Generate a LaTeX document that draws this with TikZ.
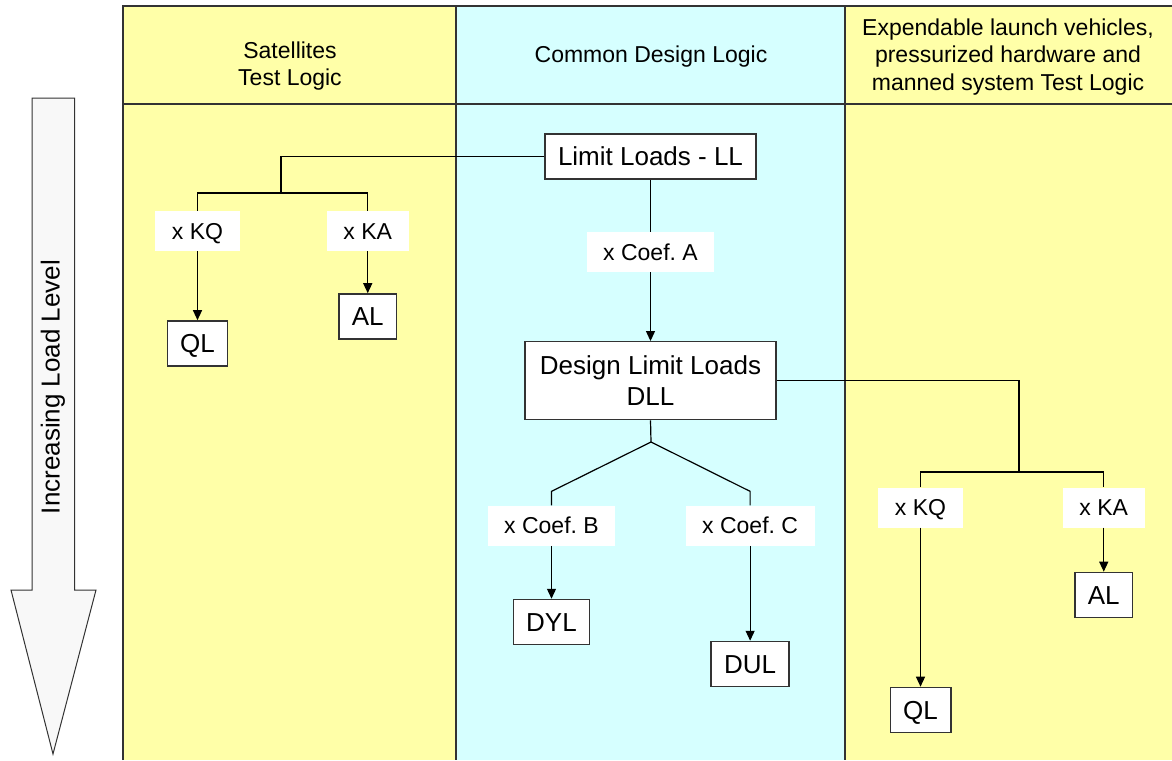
\documentclass[tikz,border=0pt]{standalone}
\usepackage{fontspec}
\setmainfont{Liberation Sans}
\usetikzlibrary{positioning}
\usetikzlibrary{arrows.meta}
\definecolor{coly}{HTML}{FFFFA8}
\definecolor{colc}{HTML}{D6FFFF}
\definecolor{colg}{HTML}{F8F8F8}
\frenchspacing

\begin{document}
\begin{tikzpicture}[
    x=1pt,y=-1pt,
    head/.style={align=center,font=\fontsize{23}{27.5}\selectfont},
    load/.style={rectangle,draw=black!80,line width=1.3pt,fill=white,inner xsep=13pt,minimum height=45pt,text height=18.6pt,text depth=0pt,font=\fontsize{26}{31}\selectfont},
    coef/.style={rectangle,fill=white,inner xsep=16.5pt,minimum height=40pt,text height=16.5pt,text depth=0pt,font=\fontsize{23}{27}\selectfont},
    wire/.style={line width=1.2pt},
    arr/.style={line width=1.2pt,-{Triangle[length=10pt,width=9pt]}}
    ]
    \useasboundingbox (0,0) rectangle (1172,760);
    % columns
    \fill[coly] (123,6) rectangle (456,760);
    \fill[colc] (456,6) rectangle (845,760);
    \fill[coly] (845,6) rectangle (1172,760);
    \draw[black!80,line width=1.5pt] (123,760) -- (123,6) -- (1172,6);
    \draw[black!80,line width=1.5pt] (123,104) -- (1172,104);
    \draw[black!80,line width=1.5pt] (456,6) -- (456,760);
    \draw[black!80,line width=1.5pt] (845,6) -- (845,760);
    \node (sat) [head] at (290,66) {Satellites\\Test Logic};
    \node (cdl) [head] at (651,57) {Common Design Logic};
    \node (elv) [head] at (1008,57) {Expendable launch vehicles,\\pressurized hardware and\\manned system Test Logic};
    % load level arrow
    \draw[black!80,fill=colg,line width=1pt] (32,98) -- (74.7,98) -- (74.7,590) -- (96,590) -- (53,754) -- (11,590) -- (32,590) -- cycle;
    \node (lvl) [rotate=90,font=\fontsize{26}{31}\selectfont] at (53,387) {Increasing Load Level};
    % common design logic
    \node (ll) [load] at (650.5,156.5) {Limit Loads - LL};
    \node (coefa) [coef,below=52pt of ll] {x Coef. A};
    \node (dll) [load,align=center,inner xsep=15pt,text height=,text depth=,minimum height=78pt,below=69pt of coefa] {Design Limit Loads\\DLL};
    \node (coefb) [coef,below=85pt of dll,xshift=-99pt] {x Coef. B};
    \node (coefc) [coef,right=70pt of coefb] {x Coef. C};
    \node (dyl) [load,below=53pt of coefb] {DYL};
    \node (dul) [load,below=95pt of coefc] {DUL};
    % satellites
    \node (skq) [coef] at (197.5,231) {x KQ};
    \node (ska) [coef,right=87pt of skq] {x KA};
    \node (sql) [load,below=69pt of skq] {QL};
    \node (sal) [load,below=42pt of ska] {AL};
    % launch vehicles
    \node (ekq) [coef] at (920.5,507.5) {x KQ};
    \node (eka) [coef,right=100pt of ekq] {x KA};
    \node (eql) [load,below=159pt of ekq] {QL};
    \node (eal) [load,below=44pt of eka] {AL};
    % connectors
    \coordinate (sbar) at (281,193);
    \coordinate (ebar) at (1019,472);
    \coordinate (fork) at (651,442);
    \draw[wire] (ll.west) -| (sbar);
    \draw[wire] (skq.north) |- (sbar) -| (ska.north);
    \draw[arr] (skq.south) -- (sql.north);
    \draw[arr] (ska.south) -- (sal.north);
    \draw[wire] (ll.south) -- (coefa.north);
    \draw[arr] (coefa.south) -- (dll.north);
    \draw[wire] (dll.south) -- (fork) -- ([yshift=14pt]coefb.north) -- (coefb.north);
    \draw[wire] (fork) -- ([yshift=14pt]coefc.north) -- (coefc.north);
    \draw[arr] (coefb.south) -- (dyl.north);
    \draw[arr] (coefc.south) -- (dul.north);
    \draw[wire] (dll.east) -| (ebar);
    \draw[wire] (ekq.north) |- (ebar) -| (eka.north);
    \draw[arr] (ekq.south) -- (eql.north);
    \draw[arr] (eka.south) -- (eal.north);
\end{tikzpicture}
\end{document}
